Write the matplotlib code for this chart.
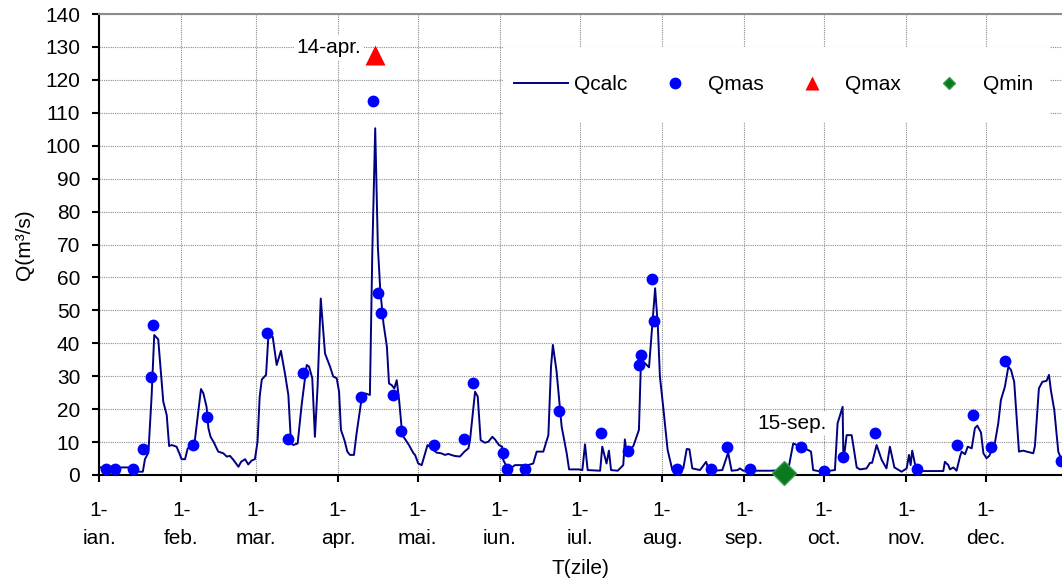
import matplotlib.pyplot as plt
from matplotlib.lines import Line2D
from matplotlib.patches import Rectangle

plt.rcParams['font.family'] = ['Liberation Sans', 'DejaVu Sans']
plt.rcParams['font.size'] = 15

# zile numarate de la 1 ianuarie (0 = 1-ian.)
calc_zi = [0, 12.0, 12.5, 16.5, 17.3, 18.6, 19.8, 20.8, 22.3, 24.2, 25.5, 26.4, 27.4, 29.2,
           30.5, 31.1, 32.4, 33.4, 34.9, 36.1, 38.4, 39.3, 40.5, 41.2, 42.0, 43.1, 44.9, 46.8,
           48.1, 49.3, 50.6, 52.5, 53.5, 55.0, 56.2, 57.5, 58.7,
           59.7, 60.5, 61.3, 62.9, 63.8, 65.4, 66.9, 68.5, 70.0, 71.3, 72.3, 73.2, 74.8, 76.3,
           78.2, 79.1, 80.3, 81.3, 82.3, 83.5, 85.1, 87.0, 88.2, 89.5, 90.4, 91.1, 92.4, 93.5,
           94.5, 96.0, 97.0, 98.9, 100.1, 102.0, 102.9, 104.0, 105.0, 105.9, 107.1, 108.4,
           109.2, 110.2, 111.2, 112.1, 113.0, 114.2, 115.5, 116.7, 118.4,
           119.0, 120.2, 121.5, 123.7, 125.3, 127.1, 128.8, 130.3, 131.5, 133.8, 135.9, 137.6,
           139.1, 139.7, 141.6, 142.6, 143.7, 145.3, 146.6, 148.1, 149.1, 150.6, 151.8, 152.2,
           154.1, 156.6, 161.6, 163.5, 164.8, 167.3, 169.2, 170.2, 170.9, 172.3, 174.2, 176.1,
           177.0, 180.5,
           182.0, 183.0, 184.0, 188.7, 189.5, 191.1, 192.0, 192.8, 195.3, 197.4, 198.0, 198.7,
           201.2, 203.3, 204.0, 205.0, 207.1, 209.4, 210.4, 211.2, 212.5, 214.1, 215.9, 220.0,
           221.3, 222.3, 223.4, 226.3, 228.6, 229.4, 231.9, 234.7, 236.9, 238.2,
           240.5, 241.3, 242.6, 253.0, 259.5, 261.4, 262.7, 263.9, 265.8, 268.1, 268.9, 272.1,
           277.1, 278.1, 280.0, 280.3, 281.5, 283.4, 284.0, 285.3, 286.5, 289.0, 290.3, 291.1,
           292.8, 294.7, 296.5, 297.8, 299.5,
           302.2, 304.1, 305.0, 305.6, 306.2, 307.2, 308.2, 317.9, 318.5, 319.8, 320.4, 321.7,
           322.9, 324.2, 324.8, 326.1, 327.1, 328.6, 329.8, 330.7, 332.1, 333.0, 334.2, 335.2,
           337.3, 338.6, 339.6, 341.1, 342.4, 343.4, 344.6, 346.4, 348.0, 349.3, 351.8, 352.4,
           353.9, 355.2, 356.8, 357.7, 358.4, 359.7, 361.2, 362.4, 364.0]
calc_q = [2.3, 2.3, 1.0, 1.0, 4.8, 6.8, 23.8, 42.5, 41.2, 22.3, 18.2, 8.8, 9.1, 8.6,
          6.1, 4.8, 4.8, 8.1, 8.6, 10.6, 26.1, 24.8, 20.7, 14.2, 11.6, 10.1, 7.1, 6.6,
          5.6, 5.8, 4.6, 2.5, 4.0, 4.8, 3.2, 4.4, 4.8,
          10.1, 23.8, 29.0, 30.4, 42.5, 42.0, 33.4, 37.7, 30.9, 24.3, 9.6, 9.1, 9.6, 21.3,
          33.4, 32.9, 29.4, 11.6, 26.8, 53.6, 36.9, 32.9, 29.9, 29.4, 25.3, 13.7, 10.6, 7.1,
          6.1, 6.1, 12.7, 23.3, 24.8, 24.3, 67.3, 105.3, 69.3, 56.2, 46.1, 39.0,
          27.8, 27.3, 26.3, 28.8, 22.8, 12.1, 10.6, 9.1, 6.6,
          6.1, 3.5, 3.0, 9.1, 8.1, 6.8, 6.6, 6.1, 6.4, 5.8, 5.6, 7.1,
          8.1, 10.6, 25.3, 23.8, 10.6, 9.8, 10.1, 11.6, 10.8, 9.1, 8.6, 4.6,
          1.5, 3.0, 3.0, 3.5, 7.1, 7.1, 12.1, 32.9, 39.5, 31.4, 14.7, 6.6,
          1.7, 1.7,
          1.5, 9.3, 1.5, 1.3, 8.6, 3.5, 7.4, 1.5, 1.3, 3.0, 10.8, 6.6,
          8.8, 13.7, 32.9, 34.4, 32.7, 56.7, 45.5, 29.9, 20.2, 7.6, 1.5, 2.0,
          7.9, 7.8, 2.0, 1.5, 4.0, 2.0, 1.3, 1.5, 6.8, 1.3,
          1.5, 2.0, 1.3, 1.3, 1.5, 9.6, 9.1, 8.6, 8.1, 7.1, 1.5, 1.0,
          1.5, 15.7, 20.7, 4.0, 12.1, 12.1, 9.1, 2.3, 1.7, 2.0, 3.7, 3.7,
          9.1, 4.6, 2.0, 8.6, 2.3,
          1.0, 2.0, 6.1, 3.0, 7.4, 3.5, 1.2, 1.2, 4.0, 3.0, 1.7, 2.3,
          1.3, 5.6, 7.1, 6.3, 8.6, 8.1, 14.2, 15.0, 12.9, 6.6, 5.1, 5.8,
          9.6, 15.7, 22.8, 26.8, 32.9, 31.9, 28.3, 7.1, 7.4, 7.1, 6.6, 8.8,
          26.3, 28.3, 28.6, 30.4, 25.8, 19.7, 7.1, 4.6, 3.5]

mas_zi = [2.6, 6.0, 12.7, 16.7, 19.6, 20.3, 35.3, 40.7,
          63.1, 71.3, 76.9, 98.5, 103.2, 105.2, 106.0, 110.6, 113.6,
          126.3, 137.6, 140.8, 152.0, 153.8, 160.4, 173.2,
          189.0, 199.3, 203.3, 204.1, 208.3, 209.1, 217.5, 230.3, 236.3,
          245.1, 264.3, 273.1, 280.0, 292.2,
          307.9, 323.0, 329.0, 335.8, 341.1, 362.4]
mas_q = [1.8, 1.8, 1.8, 7.9, 29.9, 45.6, 9.2, 17.7,
         43.2, 10.9, 30.9, 23.8, 113.6, 55.4, 49.3, 24.3, 13.5,
         9.2, 11.0, 28.0, 6.8, 1.8, 1.8, 19.4,
         12.9, 7.4, 33.4, 36.4, 59.5, 46.8, 1.8, 1.8, 8.6,
         1.8, 8.6, 1.3, 5.4, 12.9,
         1.8, 9.1, 18.2, 8.6, 34.6, 4.4]

qmax_zi, qmax_q = 104, 127.5
qmin_zi, qmin_q = 258, 0.6

luni_zi = [0, 31, 59, 90, 120, 151, 181, 212, 243, 273, 304, 334]
luni = ['ian.', 'feb.', 'mar.', 'apr.', 'mai.', 'iun.', 'iul.', 'aug.',
        'sep.', 'oct.', 'nov.', 'dec.']

verde = '#0b7a1e'
verde_des = '#3c9c4e'

fig = plt.figure(figsize=(10.62, 5.84), dpi=100)
ax = fig.add_axes([99 / 1062, 109 / 584, 963 / 1062, 461 / 584])
ax.set_axisbelow(True)

ax.plot(calc_zi, calc_q, color='#000080', lw=1.4, zorder=3)
ax.plot(mas_zi, mas_q, ls='none', marker='o', ms=8.5, color='#0000ff', mec='none', zorder=4)
ax.plot([qmax_zi], [qmax_q], ls='none', marker='^', ms=14.5, color='#ff0000', mec='none', zorder=5)
ax.plot([qmin_zi], [qmin_q], ls='none', marker='D', ms=12, mfc=verde, mec=verde_des,
        mew=1, zorder=5, clip_on=False)

ax.annotate('14-apr.', xy=(qmax_zi, qmax_q), xytext=(-10, 5.5), textcoords='offset points',
            ha='right', va='center', bbox=dict(fc='white', ec='none', pad=2), zorder=6)
ax.annotate('15-sep.', xy=(qmin_zi, qmin_q), xytext=(6, 36), textcoords='offset points',
            ha='center', va='center', bbox=dict(fc='white', ec='none', pad=2), zorder=6)

ax.set_xlim(0, 362.6)
ax.set_ylim(0, 140)
ax.set_yticks(range(0, 141, 10))
ax.set_xticks(luni_zi)
ax.set_xticklabels(['1-\n' + l for l in luni])
for lbl in ax.get_xticklabels():
    lbl.set_linespacing(1.6)

ax.grid(True, color='#8c8c8c', linestyle=(0, (1, 1)), linewidth=0.8)
for s in ['left', 'bottom']:
    ax.spines[s].set_linewidth(1.5)
    ax.spines[s].set_color('black')
ax.spines['top'].set_color('#8c8c8c')
ax.spines['top'].set_linewidth(1.5)
ax.spines['right'].set_visible(False)
ax.tick_params(axis='both', direction='out', length=5, width=1.5, color='black')
ax.tick_params(axis='y', pad=8.5)
ax.tick_params(axis='x', pad=14)

ax.set_ylabel('Q(m³/s)', labelpad=8)
ax.set_xlabel('T(zile)', labelpad=8)

# legenda pe fond alb, fara chenar
ax.add_patch(Rectangle((0.4195, 0.7657), 0.568, 0.1627, transform=ax.transAxes,
                       fc='white', ec='none', zorder=1))
handles = [Line2D([], [], color='#000080', lw=1.4),
           Line2D([], [], ls='none', marker='o', ms=8.5, color='#0000ff', mec='none'),
           Line2D([], [], ls='none', marker='^', ms=10, color='#ff0000', mec='none'),
           Line2D([], [], ls='none', marker='D', ms=6.6, mfc=verde, mec=verde_des, mew=1)]
ax.legend(handles, ['Qcalc', 'Qmas', 'Qmax', 'Qmin'], ncol=4, loc='center',
          bbox_to_anchor=(0.7, 0.847), frameon=False, handlelength=2.6,
          handletextpad=0.3, columnspacing=1.0, fontsize=15)

fig.savefig('out.png', dpi=100)
